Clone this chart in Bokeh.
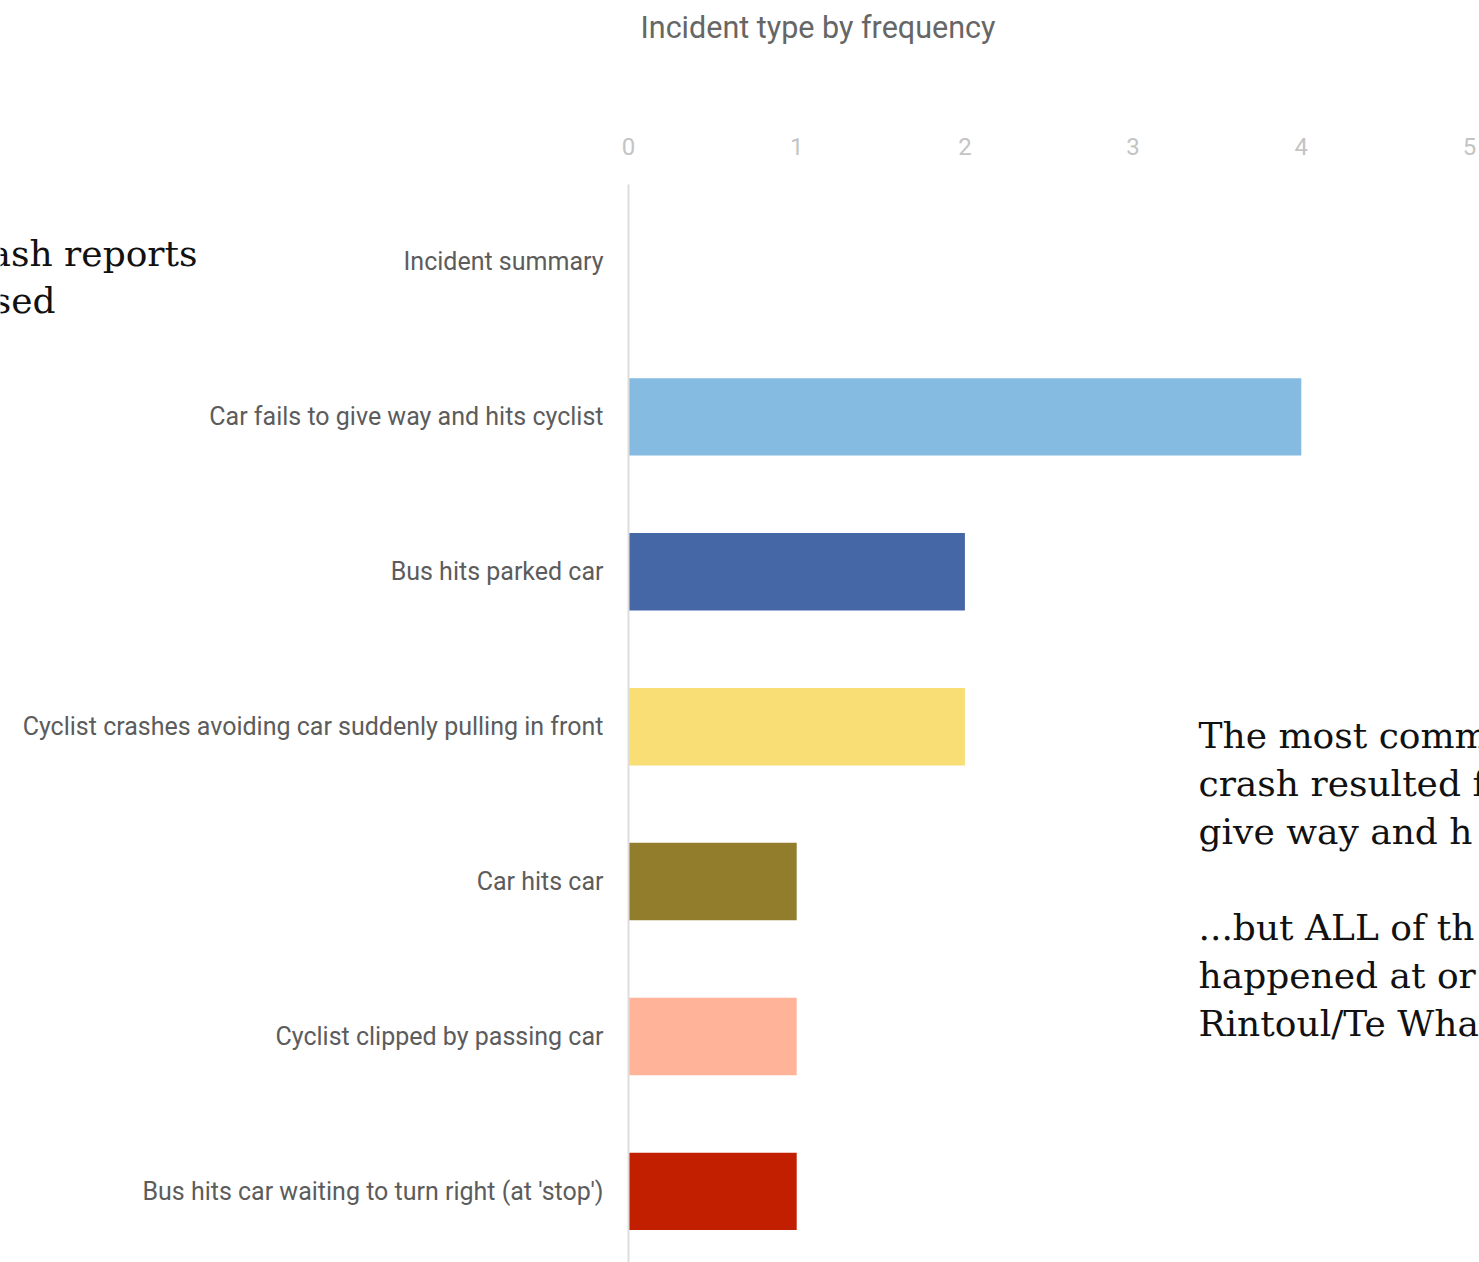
from bokeh.plotting import figure
from bokeh.models import Range1d, Label, FixedTicker
from bokeh.embed import file_html
from bokeh.resources import INLINE

# ---- data ----
categories = [
    "Incident summary",
    "Car fails to give way and hits cyclist",
    "Bus hits parked car",
    "Cyclist crashes avoiding car suddenly pulling in front",
    "Car hits car",
    "Cyclist clipped by passing car",
    "Bus hits car waiting to turn right (at 'stop')",
]
counts = [0, 4, 2, 2, 1, 1, 1]
bar_colors = ["#FFFFFF", "#85BBE0", "#4567A6", "#F9DE75", "#927D2D", "#FFB499", "#C21F00"]
x_ticks = [0, 1, 2, 3, 4, 5]
chart_title = "Incident type by frequency"
left_note = ["ash reports", "sed"]
right_note = ["The most comm", "crash resulted f", "give way and h", "",
              "...but ALL of th", "happened at or", "Rintoul/Te Wha"]

positions = list(range(len(categories)))

# layout constants (pixels -> data units)
PX_X = 168.2   # px per count
PX_Y = 154.9   # px per category band
X0 = 628       # x pixel of count 0
TOP = 184      # y pixel of top of category area
W, H = 1479, 1262

p = figure(width=W, height=H, output_backend="svg", toolbar_location=None,
           x_range=Range1d(-X0 / PX_X, (W - X0) / PX_X),
           y_range=Range1d(-0.5 + (H - TOP) / PX_Y, -0.5 - TOP / PX_Y),
           x_axis_location="above",
           min_border_left=0, min_border_right=0, min_border_bottom=0,
           min_border_top=0)
p.title = None
p.outline_line_color = None
p.background_fill_color = "white"
p.border_fill_color = "white"
p.xgrid.grid_line_color = None
p.ygrid.grid_line_color = None

p.hbar(y=positions, right=counts, left=0, height=0.5, fill_color=bar_colors,
       line_color=None)

# x axis (top), pinned at top of category area
xa = p.xaxis[0]
xa.fixed_location = -0.5
xa.ticker = FixedTicker(ticks=x_ticks)
xa.axis_line_color = None
xa.major_tick_line_color = None
xa.minor_tick_line_color = None
xa.major_label_text_font = "Roboto"
xa.major_label_text_font_size = "24px"
xa.major_label_text_color = "#C4C4C4"
xa.major_label_standoff = 24

# y axis pinned at count 0
ya = p.yaxis[0]
ya.fixed_location = 0
ya.bounds = (-0.5, 6.6)
ya.ticker = FixedTicker(ticks=positions)
ya.major_label_overrides = {i: c for i, c in zip(positions, categories)}
ya.axis_line_color = "#DDDDDD"
ya.axis_line_width = 2
ya.major_tick_line_color = None
ya.minor_tick_line_color = None
ya.major_label_text_font = "Roboto"
ya.major_label_text_font_size = "25px"
ya.major_label_text_color = "#5C5C5C"
ya.major_label_standoff = 19

# title
p.add_layout(Label(x=(640 - X0) / PX_X, y=-0.5 - (TOP - 27) / PX_Y, text=chart_title,
                   text_align="left", text_baseline="middle", text_font="Roboto",
                   text_font_size="30.5px", text_color="#666666"))

# notes
p.add_layout(Label(x=(197 - X0) / PX_X, y=-0.5 + (253 - TOP) / PX_Y, text=left_note[0],
                   text_align="right", text_baseline="middle", text_font="DejaVu Serif",
                   text_font_size="36px", text_color="#111111"))
p.add_layout(Label(x=(55 - X0) / PX_X, y=-0.5 + (300 - TOP) / PX_Y, text=left_note[1],
                   text_align="right", text_baseline="middle", text_font="DejaVu Serif",
                   text_font_size="36px", text_color="#111111"))
for i, line in enumerate(right_note):
    if line:
        p.add_layout(Label(x=(1198 - X0) / PX_X, y=-0.5 + (735 - TOP + i * 48) / PX_Y,
                           text=line, text_align="left", text_baseline="middle",
                           text_font="DejaVu Serif", text_font_size="36px",
                           text_color="#111111"))

open("out.html", "w").write(file_html(p, INLINE))
